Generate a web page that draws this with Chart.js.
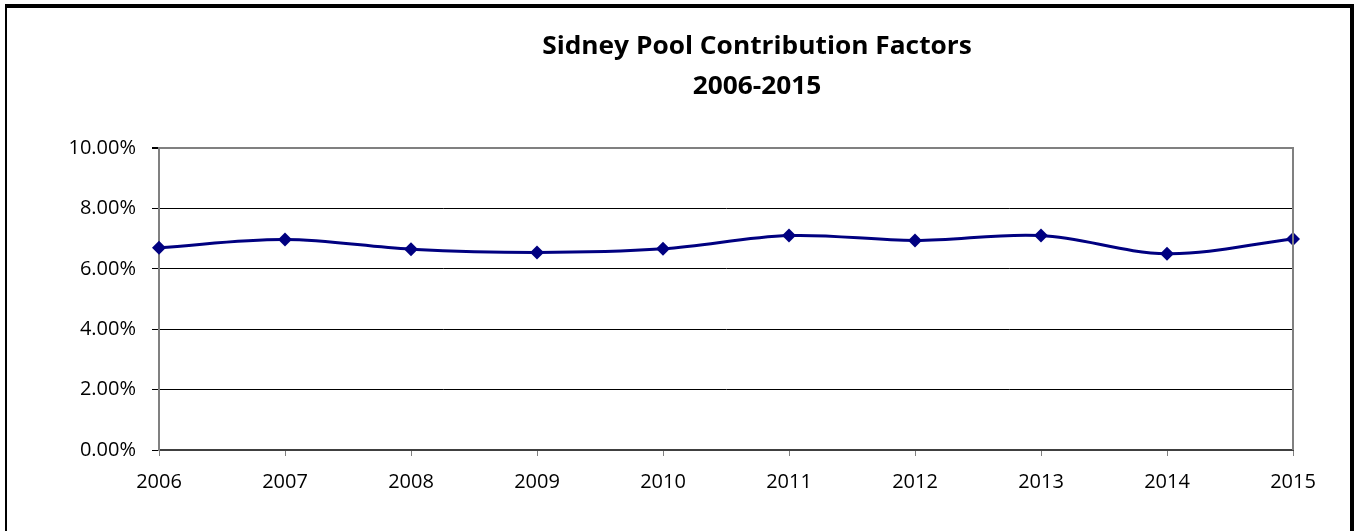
<!DOCTYPE html>
<html>
<head>
<meta charset="utf-8">
<script src="https://cdn.jsdelivr.net/npm/chart.js@4"></script>
<style>
  html, body { margin: 0; padding: 0; background: #fff; }
  canvas { display: block; }
</style>
</head>
<body>
<canvas id="poolChart" width="1354" height="531"></canvas>
<script>
// values (percent)
const years = ['2006', '2007', '2008', '2009', '2010', '2011', '2012', '2013', '2014', '2015'];
const factors = [6.70, 6.97, 6.65, 6.54, 6.66, 7.10, 6.94, 7.10, 6.50, 6.99];
const titleLines = ['Sidney Pool Contribution Factors', '2006-2015'];
const yMin = 0, yMax = 10, yStep = 2;

const tickFont = { family: '"Open Sans", sans-serif', size: 20 };

// title, plot frame and the outer box
const decorations = {
  id: 'decorations',
  afterDraw(chart) {
    const ctx = chart.ctx;
    const area = chart.chartArea;
    ctx.save();

    // plot frame (top + right, gray)
    ctx.strokeStyle = '#808080';
    ctx.lineWidth = 2;
    ctx.beginPath();
    ctx.moveTo(area.left, area.top);
    ctx.lineTo(area.right, area.top);
    ctx.lineTo(area.right, area.bottom);
    ctx.stroke();

    // title: first line as wide as in the picture, caps about 18px tall
    ctx.fillStyle = '#000';
    ctx.textAlign = 'center';
    ctx.textBaseline = 'alphabetic';
    ctx.font = 'bold 22px "Open Sans", sans-serif';
    const w = ctx.measureText(titleLines[0]).width;
    const size = 22 * 429 / w;
    const sy = 18 / (0.714 * size);
    ctx.font = 'bold ' + size.toFixed(1) + 'px "Open Sans", sans-serif';
    [[titleLines[0], 54], [titleLines[1], 94]].forEach(([txt, base]) => {
      ctx.save();
      ctx.translate(757, base);
      ctx.scale(1, sy);
      ctx.fillText(txt, 0, 0);
      ctx.restore();
    });

    // outer box
    ctx.fillStyle = '#000';
    ctx.fillRect(5, 4, 1349, 4);
    ctx.fillRect(5, 4, 2, 527);
    ctx.fillRect(1350, 4, 4, 527);
    ctx.restore();
  }
};

new Chart(document.getElementById('poolChart'), {
  type: 'line',
  data: {
    labels: years,
    datasets: [{
      label: 'Contribution Factor',
      data: factors,
      borderColor: '#000080',
      backgroundColor: '#000080',
      borderWidth: 3,
      tension: 0.35,
      pointStyle: 'rectRot',
      pointRadius: 7,
      pointHoverRadius: 7,
      pointBorderWidth: 0,
      clip: false
    }]
  },
  options: {
    responsive: false,
    animation: false,
    devicePixelRatio: 1,
    layout: { padding: { left: 0, top: 148, right: 61, bottom: 0 } },
    plugins: {
      legend: { display: false },
      title: { display: false },
      tooltip: { enabled: false }
    },
    scales: {
      x: {
        offset: false,
        grid: {
          drawOnChartArea: false,
          drawTicks: true,
          tickLength: 6,
          tickColor: '#808080',
          tickWidth: 1
        },
        border: { color: '#404040', width: 2 },
        ticks: {
          color: '#000',
          font: tickFont,
          padding: 14,
          maxRotation: 0,
          autoSkip: false
        },
        afterFit(scale) { scale.height = 81; }
      },
      y: {
        min: yMin,
        max: yMax,
        grid: {
          color: ctx => (ctx.tick && ctx.tick.value === yMax) ? '#808080' : '#000',
          lineWidth: ctx => (ctx.tick && ctx.tick.value === yMax) ? 2 : 1,
          tickLength: 7,
          tickColor: '#000'
        },
        border: { color: '#808080', width: 2 },
        ticks: {
          stepSize: yStep,
          color: '#000',
          font: tickFont,
          padding: 16,
          callback: v => v.toFixed(2) + '%'
        },
        afterFit(scale) { scale.width = 159; }
      }
    }
  },
  plugins: [decorations]
});
</script>
</body>
</html>
